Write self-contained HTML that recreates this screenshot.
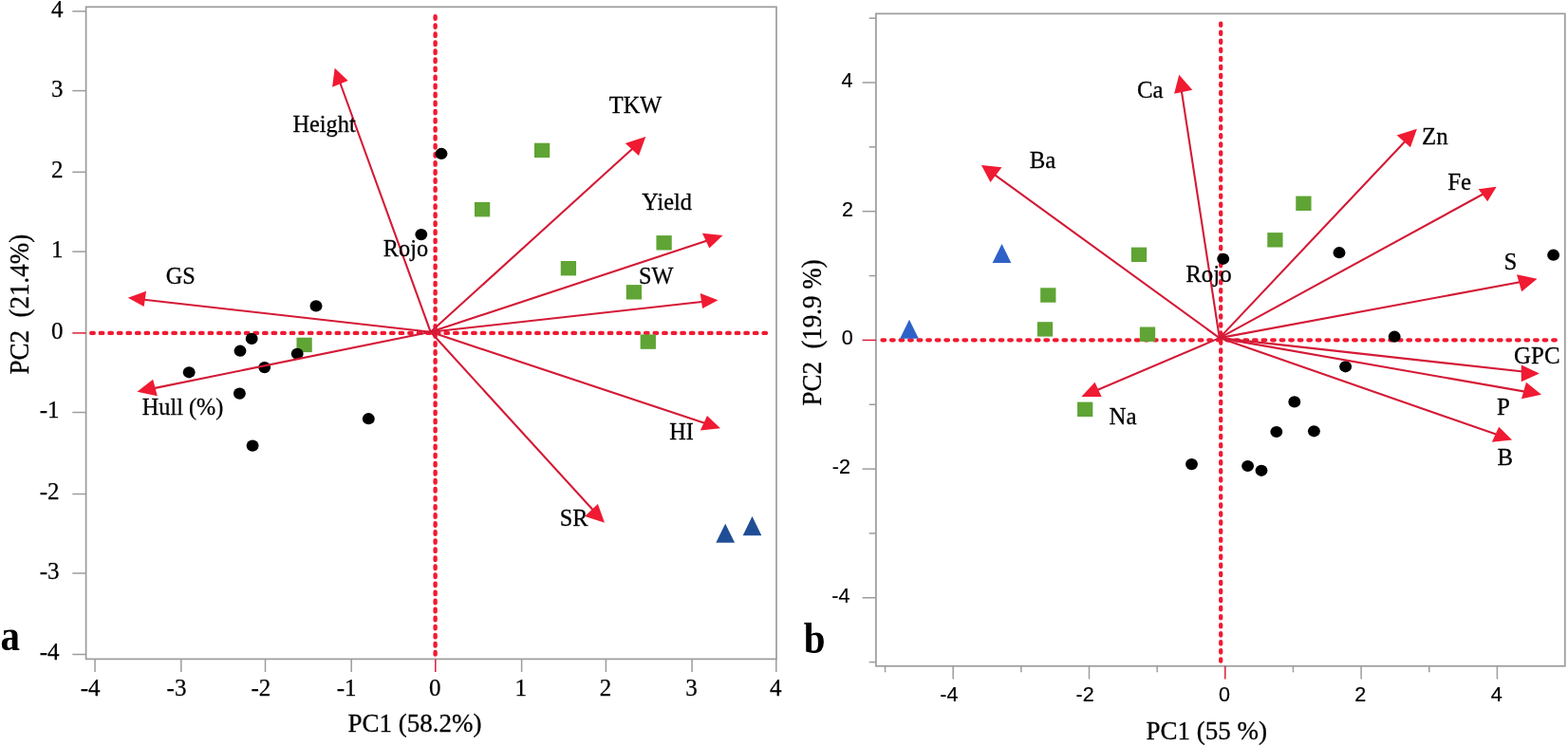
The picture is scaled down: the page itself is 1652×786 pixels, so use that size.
<!DOCTYPE html>
<html><head><meta charset="utf-8"><title>PCA biplots</title>
<style>
html,body{margin:0;padding:0;background:#fff;}
body{width:1652px;height:786px;overflow:hidden;}
svg{display:block;}
text{fill:#000;}
</style></head>
<body>
<svg width="1652" height="786" viewBox="0 0 1652 786">
<rect width="1652" height="786" fill="#fff"/>
<rect x="90.6" y="7.3" width="727.4" height="687.1" fill="none" stroke="#9c9c9c" stroke-width="1.7"/>
<line x1="76.30" y1="689.50" x2="90.60" y2="689.50" stroke="#9c9c9c" stroke-width="1.5"/>
<line x1="100.05" y1="694.40" x2="100.05" y2="708.00" stroke="#9c9c9c" stroke-width="1.5"/>
<line x1="76.30" y1="604.00" x2="90.60" y2="604.00" stroke="#9c9c9c" stroke-width="1.5"/>
<line x1="190.85" y1="694.40" x2="190.85" y2="708.00" stroke="#9c9c9c" stroke-width="1.5"/>
<line x1="76.30" y1="520.50" x2="90.60" y2="520.50" stroke="#9c9c9c" stroke-width="1.5"/>
<line x1="279.50" y1="694.40" x2="279.50" y2="708.00" stroke="#9c9c9c" stroke-width="1.5"/>
<line x1="76.30" y1="434.50" x2="90.60" y2="434.50" stroke="#9c9c9c" stroke-width="1.5"/>
<line x1="370.20" y1="694.40" x2="370.20" y2="708.00" stroke="#9c9c9c" stroke-width="1.5"/>
<line x1="76.30" y1="350.90" x2="90.60" y2="350.90" stroke="#dc1e38" stroke-width="1.5"/>
<line x1="458.80" y1="694.40" x2="458.80" y2="708.00" stroke="#dc1e38" stroke-width="1.5"/>
<line x1="76.30" y1="265.10" x2="90.60" y2="265.10" stroke="#9c9c9c" stroke-width="1.5"/>
<line x1="549.60" y1="694.40" x2="549.60" y2="708.00" stroke="#9c9c9c" stroke-width="1.5"/>
<line x1="76.30" y1="181.30" x2="90.60" y2="181.30" stroke="#9c9c9c" stroke-width="1.5"/>
<line x1="638.40" y1="694.40" x2="638.40" y2="708.00" stroke="#9c9c9c" stroke-width="1.5"/>
<line x1="76.30" y1="95.60" x2="90.60" y2="95.60" stroke="#9c9c9c" stroke-width="1.5"/>
<line x1="729.10" y1="694.40" x2="729.10" y2="708.00" stroke="#9c9c9c" stroke-width="1.5"/>
<line x1="76.30" y1="11.90" x2="90.60" y2="11.90" stroke="#9c9c9c" stroke-width="1.5"/>
<line x1="817.80" y1="694.40" x2="817.80" y2="708.00" stroke="#9c9c9c" stroke-width="1.5"/>
<line x1="458.60" y1="17.30" x2="458.60" y2="690.00" stroke="#f01a32" stroke-width="4.4" stroke-dasharray="2.5 6.55" stroke-linecap="round"/>
<line x1="96.25" y1="350.90" x2="808.00" y2="350.90" stroke="#f01a32" stroke-width="4.4" stroke-dasharray="2.45 7.121" stroke-linecap="round"/>
<text x="41.78" y="695.40" font-family='"Liberation Serif", serif' font-size="25" stroke="#000" stroke-width="0.25">-4</text>
<text x="84.81" y="732.7" font-family='"Liberation Serif", serif' font-size="25" stroke="#000" stroke-width="0.25">-4</text>
<text x="41.78" y="609.90" font-family='"Liberation Serif", serif' font-size="25" stroke="#000" stroke-width="0.25">-3</text>
<text x="175.58" y="732.7" font-family='"Liberation Serif", serif' font-size="25" stroke="#000" stroke-width="0.25">-3</text>
<text x="41.78" y="526.40" font-family='"Liberation Serif", serif' font-size="25" stroke="#000" stroke-width="0.25">-2</text>
<text x="264.45" y="732.7" font-family='"Liberation Serif", serif' font-size="25" stroke="#000" stroke-width="0.25">-2</text>
<text x="41.78" y="440.40" font-family='"Liberation Serif", serif' font-size="25" stroke="#000" stroke-width="0.25">-1</text>
<text x="354.68" y="732.7" font-family='"Liberation Serif", serif' font-size="25" stroke="#000" stroke-width="0.25">-1</text>
<text x="53.90" y="356.80" font-family='"Liberation Serif", serif' font-size="25" stroke="#000" stroke-width="0.25">0</text>
<text x="451.95" y="732.7" font-family='"Liberation Serif", serif' font-size="25" stroke="#000" stroke-width="0.25">0</text>
<text x="53.90" y="271.00" font-family='"Liberation Serif", serif' font-size="25" stroke="#000" stroke-width="0.25">1</text>
<text x="542.41" y="732.7" font-family='"Liberation Serif", serif' font-size="25" stroke="#000" stroke-width="0.25">1</text>
<text x="53.90" y="187.20" font-family='"Liberation Serif", serif' font-size="25" stroke="#000" stroke-width="0.25">2</text>
<text x="631.67" y="732.7" font-family='"Liberation Serif", serif' font-size="25" stroke="#000" stroke-width="0.25">2</text>
<text x="53.90" y="101.50" font-family='"Liberation Serif", serif' font-size="25" stroke="#000" stroke-width="0.25">3</text>
<text x="722.16" y="732.7" font-family='"Liberation Serif", serif' font-size="25" stroke="#000" stroke-width="0.25">3</text>
<text x="53.90" y="17.80" font-family='"Liberation Serif", serif' font-size="25" stroke="#000" stroke-width="0.25">4</text>
<text x="810.89" y="732.7" font-family='"Liberation Serif", serif' font-size="25" stroke="#000" stroke-width="0.25">4</text>
<text transform="translate(366.49,771.10) scale(1.0,1)" font-family='"Liberation Serif", serif' font-size="27" stroke="#000" stroke-width="0.3">PC1 (58.2%)</text>
<text transform="translate(29.70,394.41) rotate(-90) scale(1.0,1.057)" font-family='"Liberation Serif", serif' font-size="27" stroke="#000" stroke-width="0.3" style="white-space:pre">PC2  (21.4%)</text>
<text transform="translate(0.57,685.00) scale(0.885,1)" font-family='"Liberation Serif", serif' font-size="46.3" font-weight="bold">a</text>
<rect x="562.96" y="150.70" width="16.28" height="15.4" fill="#5fa434"/>
<rect x="499.96" y="213.00" width="16.28" height="15.4" fill="#5fa434"/>
<rect x="691.46" y="248.10" width="16.28" height="15.4" fill="#5fa434"/>
<rect x="590.76" y="275.00" width="16.28" height="15.4" fill="#5fa434"/>
<rect x="659.76" y="300.10" width="16.28" height="15.4" fill="#5fa434"/>
<rect x="674.66" y="352.40" width="16.28" height="15.4" fill="#5fa434"/>
<rect x="312.46" y="355.70" width="16.28" height="15.4" fill="#5fa434"/>
<ellipse cx="465.00" cy="161.95" rx="6.45" ry="6.1" fill="#000"/>
<ellipse cx="443.80" cy="247.10" rx="6.45" ry="6.1" fill="#000"/>
<ellipse cx="333.00" cy="322.40" rx="6.45" ry="6.1" fill="#000"/>
<ellipse cx="265.20" cy="356.90" rx="6.45" ry="6.1" fill="#000"/>
<ellipse cx="253.00" cy="369.70" rx="6.45" ry="6.1" fill="#000"/>
<ellipse cx="313.20" cy="372.80" rx="6.45" ry="6.1" fill="#000"/>
<ellipse cx="278.70" cy="387.10" rx="6.45" ry="6.1" fill="#000"/>
<ellipse cx="199.20" cy="392.30" rx="6.45" ry="6.1" fill="#000"/>
<ellipse cx="252.40" cy="414.60" rx="6.45" ry="6.1" fill="#000"/>
<ellipse cx="388.30" cy="441.20" rx="6.45" ry="6.1" fill="#000"/>
<ellipse cx="266.10" cy="469.60" rx="6.45" ry="6.1" fill="#000"/>
<polygon points="764.20,551.65 774.05,571.75 754.35,571.75" fill="#1f4e96"/>
<polygon points="792.50,544.05 802.35,564.15 782.65,564.15" fill="#1f4e96"/>
<line x1="453.70" y1="349.80" x2="356.21" y2="81.50" stroke="#d41a36" stroke-width="2.1" stroke-linecap="round"/>
<polygon points="352.67,71.72 366.69,85.08 350.07,91.83" fill="#f01a32"/>
<line x1="453.70" y1="349.80" x2="672.60" y2="151.07" stroke="#d41a36" stroke-width="2.1" stroke-linecap="round"/>
<polygon points="680.29,144.08 658.81,150.93 672.98,163.99" fill="#f01a32"/>
<line x1="453.70" y1="349.80" x2="751.61" y2="251.34" stroke="#d41a36" stroke-width="2.1" stroke-linecap="round"/>
<polygon points="761.48,248.08 739.96,245.69 747.31,261.49" fill="#f01a32"/>
<line x1="453.70" y1="349.80" x2="746.16" y2="317.30" stroke="#d41a36" stroke-width="2.1" stroke-linecap="round"/>
<polygon points="756.50,316.18 737.73,309.06 740.10,324.95" fill="#f01a32"/>
<line x1="453.70" y1="349.80" x2="145.14" y2="314.92" stroke="#d41a36" stroke-width="2.1" stroke-linecap="round"/>
<polygon points="134.80,313.77 154.07,306.81 151.70,323.05" fill="#f01a32"/>
<line x1="453.70" y1="349.80" x2="154.70" y2="410.61" stroke="#d41a36" stroke-width="2.1" stroke-linecap="round"/>
<polygon points="144.51,412.69 161.15,399.63 165.80,417.36" fill="#f01a32"/>
<line x1="453.70" y1="349.80" x2="749.11" y2="448.04" stroke="#d41a36" stroke-width="2.1" stroke-linecap="round"/>
<polygon points="758.98,451.32 745.01,438.01 737.86,453.51" fill="#f01a32"/>
<line x1="453.70" y1="349.80" x2="629.96" y2="543.01" stroke="#d41a36" stroke-width="2.1" stroke-linecap="round"/>
<polygon points="636.99,550.67 629.88,530.91 616.11,543.97" fill="#f01a32"/>
<text transform="translate(308.57,139.30) scale(0.96,1)" font-family='"Liberation Serif", serif' font-size="25.3" stroke="#000" stroke-width="0.3">Height</text>
<text transform="translate(641.87,118.90) scale(0.96,1)" font-family='"Liberation Serif", serif' font-size="25.3" stroke="#000" stroke-width="0.3">TKW</text>
<text transform="translate(676.26,221.00) scale(0.96,1)" font-family='"Liberation Serif", serif' font-size="25.3" stroke="#000" stroke-width="0.3">Yield</text>
<text transform="translate(673.06,298.90) scale(0.96,1)" font-family='"Liberation Serif", serif' font-size="25.3" stroke="#000" stroke-width="0.3">SW</text>
<text transform="translate(174.73,298.50) scale(0.96,1)" font-family='"Liberation Serif", serif' font-size="25.3" stroke="#000" stroke-width="0.3">GS</text>
<text transform="translate(149.77,437.00) scale(0.96,1)" font-family='"Liberation Serif", serif' font-size="25.3" stroke="#000" stroke-width="0.3">Hull (%)</text>
<text transform="translate(705.17,462.70) scale(0.96,1)" font-family='"Liberation Serif", serif' font-size="25.3" stroke="#000" stroke-width="0.3">HI</text>
<text transform="translate(589.66,554.00) scale(0.96,1)" font-family='"Liberation Serif", serif' font-size="25.3" stroke="#000" stroke-width="0.3">SR</text>
<text transform="translate(403.87,270.10) scale(0.96,1)" font-family='"Liberation Serif", serif' font-size="25.3" stroke="#000" stroke-width="0.3">Rojo</text>
<rect x="922.9" y="14.4" width="725.9" height="687.4" fill="none" stroke="#9c9c9c" stroke-width="1.7"/>
<line x1="915.70" y1="697.65" x2="922.90" y2="697.65" stroke="#9c9c9c" stroke-width="1.5"/>
<line x1="932.55" y1="701.80" x2="932.55" y2="708.30" stroke="#9c9c9c" stroke-width="1.5"/>
<line x1="908.60" y1="629.80" x2="922.90" y2="629.80" stroke="#9c9c9c" stroke-width="1.5"/>
<line x1="1004.20" y1="701.80" x2="1004.20" y2="715.50" stroke="#9c9c9c" stroke-width="1.5"/>
<text transform="translate(876.27,634.60) scale(0.945,1)" font-family='"Liberation Sans", sans-serif' font-size="22.8" stroke="#000" stroke-width="0.2">-4</text>
<text transform="translate(990.30,738.9) scale(0.945,1)" font-family='"Liberation Sans", sans-serif' font-size="22.8" stroke="#000" stroke-width="0.2">-4</text>
<line x1="915.70" y1="561.95" x2="922.90" y2="561.95" stroke="#9c9c9c" stroke-width="1.5"/>
<line x1="1075.85" y1="701.80" x2="1075.85" y2="708.30" stroke="#9c9c9c" stroke-width="1.5"/>
<line x1="908.60" y1="494.10" x2="922.90" y2="494.10" stroke="#9c9c9c" stroke-width="1.5"/>
<line x1="1147.50" y1="701.80" x2="1147.50" y2="715.50" stroke="#9c9c9c" stroke-width="1.5"/>
<text transform="translate(876.76,498.90) scale(0.945,1)" font-family='"Liberation Sans", sans-serif' font-size="22.8" stroke="#000" stroke-width="0.2">-2</text>
<text transform="translate(1133.55,738.9) scale(0.945,1)" font-family='"Liberation Sans", sans-serif' font-size="22.8" stroke="#000" stroke-width="0.2">-2</text>
<line x1="915.70" y1="426.25" x2="922.90" y2="426.25" stroke="#9c9c9c" stroke-width="1.5"/>
<line x1="1219.15" y1="701.80" x2="1219.15" y2="708.30" stroke="#9c9c9c" stroke-width="1.5"/>
<line x1="908.60" y1="358.40" x2="922.90" y2="358.40" stroke="#dc1e38" stroke-width="1.5"/>
<line x1="1290.80" y1="701.80" x2="1290.80" y2="715.50" stroke="#dc1e38" stroke-width="1.5"/>
<text transform="translate(886.65,363.20) scale(0.945,1)" font-family='"Liberation Sans", sans-serif' font-size="22.8" stroke="#000" stroke-width="0.2">0</text>
<text transform="translate(1283.99,738.9) scale(0.945,1)" font-family='"Liberation Sans", sans-serif' font-size="22.8" stroke="#000" stroke-width="0.2">0</text>
<line x1="915.70" y1="290.55" x2="922.90" y2="290.55" stroke="#9c9c9c" stroke-width="1.5"/>
<line x1="1362.45" y1="701.80" x2="1362.45" y2="708.30" stroke="#9c9c9c" stroke-width="1.5"/>
<line x1="908.60" y1="222.70" x2="922.90" y2="222.70" stroke="#9c9c9c" stroke-width="1.5"/>
<line x1="1434.10" y1="701.80" x2="1434.10" y2="715.50" stroke="#9c9c9c" stroke-width="1.5"/>
<text transform="translate(886.92,227.50) scale(0.945,1)" font-family='"Liberation Sans", sans-serif' font-size="22.8" stroke="#000" stroke-width="0.2">2</text>
<text transform="translate(1427.32,738.9) scale(0.945,1)" font-family='"Liberation Sans", sans-serif' font-size="22.8" stroke="#000" stroke-width="0.2">2</text>
<line x1="915.70" y1="154.85" x2="922.90" y2="154.85" stroke="#9c9c9c" stroke-width="1.5"/>
<line x1="1505.75" y1="701.80" x2="1505.75" y2="708.30" stroke="#9c9c9c" stroke-width="1.5"/>
<line x1="908.60" y1="87.00" x2="922.90" y2="87.00" stroke="#9c9c9c" stroke-width="1.5"/>
<line x1="1577.40" y1="701.80" x2="1577.40" y2="715.50" stroke="#9c9c9c" stroke-width="1.5"/>
<text transform="translate(886.43,91.80) scale(0.945,1)" font-family='"Liberation Sans", sans-serif' font-size="22.8" stroke="#000" stroke-width="0.2">4</text>
<text transform="translate(1570.67,738.9) scale(0.945,1)" font-family='"Liberation Sans", sans-serif' font-size="22.8" stroke="#000" stroke-width="0.2">4</text>
<line x1="915.70" y1="19.15" x2="922.90" y2="19.15" stroke="#9c9c9c" stroke-width="1.5"/>
<line x1="1286.20" y1="24.60" x2="1286.20" y2="697.00" stroke="#f01a32" stroke-width="4.3" stroke-dasharray="2.35 6.7" stroke-linecap="round"/>
<line x1="929.50" y1="358.30" x2="1640.00" y2="358.30" stroke="#f01a32" stroke-width="4.3" stroke-dasharray="2.6 6.95" stroke-linecap="round"/>
<text transform="translate(1207.49,778.90) scale(1.0,1)" font-family='"Liberation Serif", serif' font-size="27" stroke="#000" stroke-width="0.3">PC1 (55 %)</text>
<text transform="translate(864.60,427.61) rotate(-90) scale(1.0,1.057)" font-family='"Liberation Serif", serif' font-size="27" stroke="#000" stroke-width="0.3" style="white-space:pre">PC2  (19.9 %)</text>
<text transform="translate(846.79,687.50) scale(0.885,1)" font-family='"Liberation Serif", serif' font-size="46.3" font-weight="bold">b</text>
<rect x="1365.26" y="206.60" width="16.28" height="15.4" fill="#5fa434"/>
<rect x="1335.26" y="245.10" width="16.28" height="15.4" fill="#5fa434"/>
<rect x="1191.86" y="260.60" width="16.28" height="15.4" fill="#5fa434"/>
<rect x="1096.16" y="303.30" width="16.28" height="15.4" fill="#5fa434"/>
<rect x="1092.86" y="339.20" width="16.28" height="15.4" fill="#5fa434"/>
<rect x="1200.86" y="344.50" width="16.28" height="15.4" fill="#5fa434"/>
<rect x="1135.06" y="423.60" width="16.28" height="15.4" fill="#5fa434"/>
<ellipse cx="1288.70" cy="272.80" rx="6.45" ry="6.1" fill="#000"/>
<ellipse cx="1411.00" cy="266.20" rx="6.45" ry="6.1" fill="#000"/>
<ellipse cx="1636.60" cy="268.70" rx="6.45" ry="6.1" fill="#000"/>
<ellipse cx="1469.20" cy="354.70" rx="6.45" ry="6.1" fill="#000"/>
<ellipse cx="1417.60" cy="386.30" rx="6.45" ry="6.1" fill="#000"/>
<ellipse cx="1363.80" cy="423.40" rx="6.45" ry="6.1" fill="#000"/>
<ellipse cx="1344.80" cy="455.00" rx="6.45" ry="6.1" fill="#000"/>
<ellipse cx="1384.40" cy="454.30" rx="6.45" ry="6.1" fill="#000"/>
<ellipse cx="1255.50" cy="489.10" rx="6.45" ry="6.1" fill="#000"/>
<ellipse cx="1314.60" cy="491.00" rx="6.45" ry="6.1" fill="#000"/>
<ellipse cx="1329.00" cy="495.80" rx="6.45" ry="6.1" fill="#000"/>
<polygon points="1055.50,256.90 1065.35,277.00 1045.65,277.00" fill="#2f62c8"/>
<polygon points="958.00,336.75 967.85,356.85 948.15,356.85" fill="#2f62c8"/>
<line x1="1284.80" y1="356.10" x2="1243.82" y2="89.13" stroke="#d41a36" stroke-width="2.1" stroke-linecap="round"/>
<polygon points="1242.20,78.86 1256.28,94.63 1237.12,98.78" fill="#f01a32"/>
<line x1="1284.80" y1="356.10" x2="1042.39" y2="180.08" stroke="#d41a36" stroke-width="2.1" stroke-linecap="round"/>
<polygon points="1033.96,173.98 1055.47,176.15 1043.47,191.90" fill="#f01a32"/>
<line x1="1284.80" y1="356.10" x2="1485.74" y2="143.17" stroke="#d41a36" stroke-width="2.1" stroke-linecap="round"/>
<polygon points="1492.89,135.63 1471.60,142.54 1485.99,155.19" fill="#f01a32"/>
<line x1="1284.80" y1="356.10" x2="1567.52" y2="201.79" stroke="#d41a36" stroke-width="2.1" stroke-linecap="round"/>
<polygon points="1576.64,196.79 1557.63,199.16 1567.20,212.30" fill="#f01a32"/>
<line x1="1284.80" y1="356.10" x2="1609.27" y2="295.73" stroke="#d41a36" stroke-width="2.1" stroke-linecap="round"/>
<polygon points="1619.49,293.81 1597.99,289.24 1603.17,307.28" fill="#f01a32"/>
<line x1="1284.80" y1="356.10" x2="1611.56" y2="392.30" stroke="#d41a36" stroke-width="2.1" stroke-linecap="round"/>
<polygon points="1621.90,393.40 1602.77,384.48 1602.77,402.22" fill="#f01a32"/>
<line x1="1284.80" y1="356.10" x2="1613.75" y2="413.87" stroke="#d41a36" stroke-width="2.1" stroke-linecap="round"/>
<polygon points="1623.99,415.69 1607.96,402.82 1603.00,420.36" fill="#f01a32"/>
<line x1="1284.80" y1="356.10" x2="1583.26" y2="460.01" stroke="#d41a36" stroke-width="2.1" stroke-linecap="round"/>
<polygon points="1593.08,463.42 1579.21,449.81 1571.86,465.71" fill="#f01a32"/>
<line x1="1284.80" y1="356.10" x2="1148.90" y2="413.98" stroke="#d41a36" stroke-width="2.1" stroke-linecap="round"/>
<polygon points="1139.33,418.06 1153.49,402.66 1160.65,417.89" fill="#f01a32"/>
<text transform="translate(1198.00,103.10) scale(0.976,1)" font-family='"Liberation Serif", serif' font-size="25.5" stroke="#000" stroke-width="0.3">Ca</text>
<text transform="translate(1084.65,176.90) scale(0.976,1)" font-family='"Liberation Serif", serif' font-size="25.5" stroke="#000" stroke-width="0.3">Ba</text>
<text transform="translate(1498.02,152.00) scale(0.976,1)" font-family='"Liberation Serif", serif' font-size="25.5" stroke="#000" stroke-width="0.3">Zn</text>
<text transform="translate(1525.15,199.60) scale(0.976,1)" font-family='"Liberation Serif", serif' font-size="25.5" stroke="#000" stroke-width="0.3">Fe</text>
<text transform="translate(1584.52,284.00) scale(0.976,1)" font-family='"Liberation Serif", serif' font-size="25.5" stroke="#000" stroke-width="0.3">S</text>
<text transform="translate(1595.10,382.90) scale(0.976,1)" font-family='"Liberation Serif", serif' font-size="25.5" stroke="#000" stroke-width="0.3">GPC</text>
<text transform="translate(1577.05,436.70) scale(0.976,1)" font-family='"Liberation Serif", serif' font-size="25.5" stroke="#000" stroke-width="0.3">P</text>
<text transform="translate(1577.45,489.80) scale(0.976,1)" font-family='"Liberation Serif", serif' font-size="25.5" stroke="#000" stroke-width="0.3">B</text>
<text transform="translate(1168.55,446.90) scale(0.976,1)" font-family='"Liberation Serif", serif' font-size="25.5" stroke="#000" stroke-width="0.3">Na</text>
<text transform="translate(1249.25,297.20) scale(0.976,1)" font-family='"Liberation Serif", serif' font-size="25.5" stroke="#000" stroke-width="0.3">Rojo</text>
</svg>
</body></html>
